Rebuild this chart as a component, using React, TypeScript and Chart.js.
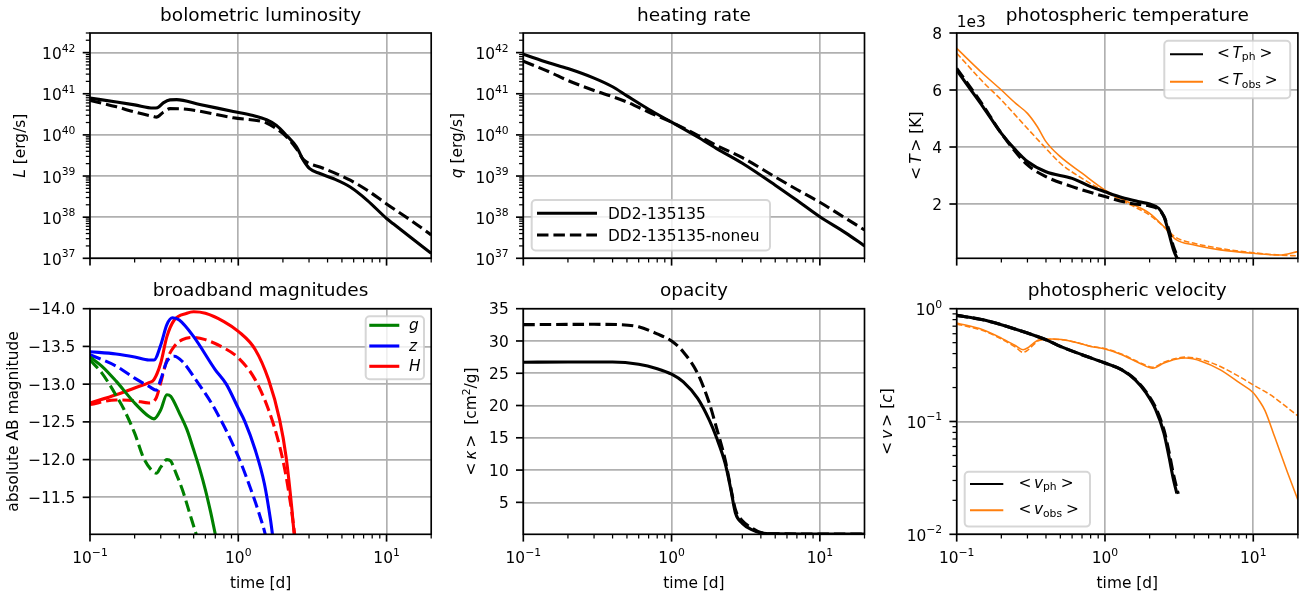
import { useEffect, useRef } from 'react';
import { Chart, registerables } from 'chart.js';

Chart.register(...registerables);

// ---------------------------------------------------------------- data
const timeMajorTicks = [0.1, 1, 10];
const timeTickExponents = ['−1', '0', '1'];
const timeMinorTicks = [0.2, 0.3, 0.4, 0.5, 0.6, 0.7, 0.8, 0.9, 2, 3, 4, 5, 6, 7, 8, 9, 20];

const lumMajorTicks = [1e37, 1e38, 1e39, 1e40, 1e41, 1e42];
const lumTickExponents = ['37', '38', '39', '40', '41', '42'];
const velMajorTicks = [0.01, 0.1, 1];
const velTickExponents = ['−2', '−1', '0'];
const tempMajorTicks = [2000, 4000, 6000, 8000];
const tempTickLabels = ['2', '4', '6', '8'];
const magMajorTicks = [-14, -13.5, -13, -12.5, -12, -11.5];
const magTickLabels = ['−14.0', '−13.5', '−13.0', '−12.5', '−12.0', '−11.5'];
const opacMajorTicks = [5, 10, 15, 20, 25, 30, 35];
const opacTickLabels = ['5', '10', '15', '20', '25', '30', '35'];

// bolometric luminosity [erg/s]
const lumSolidTime = [0.1, 0.151, 0.2, 0.267, 0.285, 0.312, 0.346, 0.384, 0.55, 0.925, 1.26, 1.55, 1.81, 2.11, 2.47, 2.75, 3.03, 3.55, 4.36, 5.69, 7.41, 10, 11.1, 14.5, 20];
const lumSolidValue = [7.85e40, 6.31e40, 5.37e40, 4.5e40, 4.6e40, 6.0e40, 7.1e40, 7.2e40, 5.5e40, 3.72e40, 2.95e40, 2.34e40, 1.7e40, 9.8e39, 5.1e39, 2.4e39, 1.51e39, 1.15e39, 8.7e38, 5.4e38, 2.57e38, 9.3e37, 6.9e37, 3.24e37, 1.32e37];
const lumDashedTime = [0.1, 0.151, 0.2, 0.267, 0.28, 0.312, 0.346, 0.449, 0.925, 1.55, 1.81, 2.11, 2.47, 2.75, 3.03, 3.55, 5.69, 7.41, 10, 14.5, 20];
const lumDashedValue = [6.9e40, 4.8e40, 3.6e40, 2.8e40, 2.7e40, 3.55e40, 4.35e40, 4.2e40, 2.6e40, 1.95e40, 1.41e40, 9.1e39, 4.6e39, 2.5e39, 2.0e39, 1.66e39, 7.9e38, 4.5e38, 2.1e38, 8.5e37, 3.7e37];

// heating rate [erg/s]
const heatSolidTime = [0.1, 0.15, 0.2, 0.3, 0.4, 0.5, 0.7, 1, 1.5, 2, 3, 5, 7, 10, 15, 20];
const heatSolidValue = [9.1e41, 5.6e41, 4.1e41, 2.4e41, 1.48e41, 8.9e40, 4.2e40, 2.04e40, 8.9e39, 4.7e39, 2.04e39, 6.0e38, 2.57e38, 1.02e38, 4.1e37, 2.0e37];
const heatDashedTime = [0.1, 0.15, 0.2, 0.3, 0.4, 0.5, 0.7, 1, 1.5, 2, 3, 5, 7, 10, 15, 20];
const heatDashedValue = [6.2e41, 3.4e41, 2.1e41, 1.2e41, 8.5e40, 6.3e40, 3.6e40, 2.04e40, 9.8e39, 5.6e39, 2.8e39, 9.5e38, 4.7e38, 2.3e38, 9.3e37, 4.9e37];

// photospheric temperature [K]
const tphSolidTime = [0.1, 0.12, 0.15, 0.2, 0.25, 0.3, 0.4, 0.6, 0.8, 1.0, 1.3, 1.7, 2.0, 2.3, 2.5, 2.7, 2.9, 3.1];
const tphSolidValue = [6700, 6120, 5420, 4480, 3890, 3490, 3130, 2900, 2610, 2430, 2230, 2080, 2000, 1850, 1560, 970, 390, 40];
const tphDashedTime = [0.1, 0.15, 0.2, 0.3, 0.4, 0.6, 1.0, 1.5, 2.0, 2.3, 2.5, 2.7, 2.9, 3.15];
const tphDashedValue = [6760, 5470, 4480, 3370, 2960, 2610, 2260, 2020, 1930, 1810, 1560, 1090, 500, 40];
const tobsSolidTime = [0.1, 0.15, 0.2, 0.25, 0.3, 0.35, 0.4, 0.5, 0.7, 1, 1.5, 2, 2.5, 3, 4, 6, 10, 15, 20];
const tobsSolidValue = [7460, 6580, 6000, 5530, 5180, 4710, 4190, 3660, 3080, 2490, 2020, 1670, 1200, 760, 560, 390, 270, 210, 330];
const tobsDashedTime = [0.1, 0.15, 0.2, 0.3, 0.4, 0.5, 0.7, 1, 1.5, 2, 2.5, 3, 4, 6, 10, 15, 20];
const tobsDashedValue = [7290, 6290, 5650, 4650, 3950, 3430, 2900, 2430, 1960, 1610, 1200, 830, 620, 440, 290, 210, 180];

// broadband magnitudes (absolute AB)
const gSolidTime = [0.1, 0.12, 0.15, 0.2, 0.25, 0.27, 0.3, 0.33, 0.35, 0.4, 0.45, 0.5, 0.55, 0.6, 0.65, 0.7, 0.72];
const gSolidValue = [-13.36, -13.24, -13.04, -12.75, -12.57, -12.54, -12.66, -12.86, -12.84, -12.62, -12.4, -12.13, -11.87, -11.6, -11.31, -11.01, -10.9];
const gDashedTime = [0.1, 0.12, 0.135, 0.15, 0.17, 0.2, 0.23, 0.26, 0.28, 0.3, 0.33, 0.35, 0.38, 0.42, 0.47, 0.52, 0.54];
const gDashedValue = [-13.32, -13.15, -13.0, -12.85, -12.66, -12.35, -12.02, -11.86, -11.82, -11.9, -12.0, -11.98, -11.82, -11.6, -11.29, -11.01, -10.9];
const zSolidTime = [0.1, 0.15, 0.2, 0.25, 0.27, 0.3, 0.33, 0.36, 0.4, 0.5, 0.7, 0.83, 1.0, 1.11, 1.3, 1.5, 1.65, 1.7, 1.74];
const zSolidValue = [-13.43, -13.4, -13.36, -13.32, -13.32, -13.52, -13.79, -13.88, -13.85, -13.63, -13.19, -13.0, -12.68, -12.5, -12.13, -11.68, -11.2, -11.01, -10.85];
const zDashedTime = [0.1, 0.15, 0.2, 0.25, 0.28, 0.3, 0.33, 0.37, 0.42, 0.5, 0.7, 1.0, 1.27, 1.4, 1.52, 1.56];
const zDashedValue = [-13.39, -13.24, -13.08, -12.97, -12.92, -13.06, -13.3, -13.37, -13.3, -13.1, -12.66, -12.04, -11.5, -11.25, -11.01, -10.9];
const hSolidTime = [0.1, 0.15, 0.2, 0.25, 0.27, 0.3, 0.33, 0.37, 0.45, 0.5, 0.6, 0.8, 1.0, 1.3, 1.6, 1.9, 2.1, 2.3, 2.38, 2.42];
const hSolidValue = [-12.75, -12.86, -12.95, -13.02, -13.06, -13.28, -13.63, -13.85, -13.94, -13.96, -13.94, -13.83, -13.7, -13.46, -13.06, -12.53, -12.04, -11.34, -11.01, -10.85];
const hDashedTime = [0.1, 0.15, 0.2, 0.25, 0.28, 0.3, 0.33, 0.37, 0.42, 0.5, 0.6, 0.8, 1.0, 1.3, 1.6, 1.9, 2.1, 2.3, 2.4, 2.44];
const hDashedValue = [-12.73, -12.79, -12.78, -12.75, -12.82, -13.02, -13.32, -13.5, -13.59, -13.62, -13.59, -13.48, -13.35, -13.06, -12.66, -12.18, -11.78, -11.29, -11.01, -10.9];

// opacity [cm^2/g]
const kapSolidTime = [0.1, 0.2, 0.4, 0.6, 0.8, 1.0, 1.2, 1.5, 1.8, 2.0, 2.3, 2.5, 2.7, 3.0, 3.5, 4.0, 5, 10, 20];
const kapSolidValue = [26.7, 26.75, 26.75, 26.4, 25.7, 24.85, 23.66, 21.1, 17.7, 15.15, 11.0, 7.2, 3.3, 1.75, 0.72, 0.25, 0.12, 0.1, 0.1];
const kapDashedTime = [0.1, 0.3, 0.45, 0.6, 0.8, 1.0, 1.2, 1.5, 1.8, 2.0, 2.3, 2.5, 2.7, 3.0, 3.5, 4.0, 5, 10, 20];
const kapDashedValue = [32.53, 32.58, 32.53, 32.2, 31.1, 30.0, 28.3, 24.95, 20.3, 16.7, 11.55, 7.4, 3.8, 2.16, 0.98, 0.31, 0.12, 0.1, 0.1];

// photospheric velocity [c]
const vphSolidTime = [0.1, 0.15, 0.2, 0.3, 0.4, 0.5, 0.7, 1.0, 1.3, 1.6, 1.9, 2.2, 2.5, 2.7, 2.9, 3.05];
const vphSolidValue = [0.873, 0.798, 0.721, 0.608, 0.531, 0.463, 0.391, 0.33, 0.287, 0.234, 0.178, 0.127, 0.0787, 0.0489, 0.0303, 0.0231];
const vphDashedTime = [0.1, 0.15, 0.2, 0.3, 0.4, 0.5, 0.7, 1.0, 1.3, 1.6, 1.9, 2.2, 2.5, 2.7, 2.9, 3.12];
const vphDashedValue = [0.873, 0.798, 0.721, 0.608, 0.531, 0.463, 0.391, 0.33, 0.287, 0.236, 0.182, 0.132, 0.084, 0.054, 0.0337, 0.0228];
const vobsSolidTime = [0.1, 0.15, 0.2, 0.25, 0.28, 0.3, 0.33, 0.36, 0.45, 0.6, 0.8, 1.0, 1.3, 1.7, 2.1, 2.5, 3.0, 3.5, 4.5, 6, 8, 10, 11, 12, 14, 17, 20];
const vobsSolidValue = [0.746, 0.651, 0.549, 0.469, 0.433, 0.448, 0.496, 0.531, 0.538, 0.513, 0.463, 0.439, 0.391, 0.33, 0.297, 0.33, 0.357, 0.365, 0.341, 0.287, 0.222, 0.18, 0.152, 0.125, 0.072, 0.0355, 0.0202];
const vobsDashedTime = [0.1, 0.15, 0.2, 0.25, 0.28, 0.3, 0.33, 0.36, 0.45, 0.6, 0.8, 1.0, 1.3, 1.7, 2.1, 2.5, 3.0, 3.5, 4.5, 6, 8, 10, 13, 16, 20];
const vobsDashedValue = [0.731, 0.64, 0.54, 0.455, 0.41, 0.427, 0.48, 0.523, 0.535, 0.513, 0.465, 0.442, 0.395, 0.335, 0.303, 0.335, 0.362, 0.372, 0.353, 0.307, 0.251, 0.211, 0.173, 0.141, 0.112];

// ---------------------------------------------------------------- style / layout
const W = 1310;
const H = 596;
const FONT_FAMILY = '"DejaVu Sans", "Liberation Sans", sans-serif';
const FS = 15.4;
const FS_TITLE = 18.5;
const BLACK = '#000000';
const ORANGE = '#ff7f0e';
const GREEN = '#008000';
const BLUE = '#0000ff';
const RED = '#ff0000';
const GRID = '#b0b0b0';
const THICK = 3.1;
const THIN = 1.56;
const MAJOR_LEN = 7.3;
const MINOR_LEN = 4.2;
const MAJOR_W = 1.67;
const MINOR_W = 1.25;
const SPINE_W = 1.67;
const LABEL_GAP = 14.6;

const COL_L = [90, 523.3, 956.7];
const PLOT_W = 341.2;
const ROW_T = [33, 308.7];
const ROW_B = [258.3, 534.3];

type Part = { s: string; it?: boolean; sc?: number; dy?: number; gap?: number };
type Series = { t: number[]; v: number[]; color: string; lw: number; dashed: boolean };
type LegendRow = { y: number; color: string; lw: number; dashed: boolean; parts: Part[] };
type LegendSpec = { box: [number, number, number, number]; hx: [number, number]; tx: number; dy: number; rows: LegendRow[] };
type PanelSpec = {
  col: number;
  row: number;
  title: string;
  yType: 'logarithmic' | 'linear';
  yMin: number;
  yMax: number;
  reverse?: boolean;
  yMajor: number[];
  yMinor: number[];
  yLabels: Part[][];
  yLabelDy: number;
  ylabel: Part[];
  ylabelX: number;
  xTickLabels: boolean;
  series: Series[];
  legend?: LegendSpec;
  offsetText?: string;
};

const pow10 = (e: string): Part[] => [{ s: '10' }, { s: e, sc: 0.7, dy: -0.5 }];
const plain = (s: string): Part[] => [{ s }];
const decadeMinors = (e0: number, e1: number, extra: number[]) => {
  const out: number[] = [];
  for (let e = e0; e < e1; e++) for (let k = 2; k <= 9; k++) out.push(k * Math.pow(10, e));
  return out.concat(extra);
};
const dash = (lw: number) => [3.7 * lw, 1.6 * lw];

const PANELS: PanelSpec[] = [
  {
    col: 0, row: 0, title: 'bolometric luminosity', yType: 'logarithmic', yMin: 1e37, yMax: 3e42,
    yMajor: lumMajorTicks, yMinor: decadeMinors(37, 42, [2e42, 3e42]), yLabels: lumTickExponents.map(pow10), yLabelDy: 6.6,
    ylabel: [{ s: 'L', it: true }, { s: ' [erg/s]' }], ylabelX: 25, xTickLabels: false,
    series: [
      { t: lumSolidTime, v: lumSolidValue, color: BLACK, lw: THICK, dashed: false },
      { t: lumDashedTime, v: lumDashedValue, color: BLACK, lw: THICK, dashed: true },
    ],
  },
  {
    col: 1, row: 0, title: 'heating rate', yType: 'logarithmic', yMin: 1e37, yMax: 3e42,
    yMajor: lumMajorTicks, yMinor: decadeMinors(37, 42, [2e42, 3e42]), yLabels: lumTickExponents.map(pow10), yLabelDy: 6.6,
    ylabel: [{ s: 'q', it: true }, { s: ' [erg/s]' }], ylabelX: 461.5, xTickLabels: false,
    series: [
      { t: heatSolidTime, v: heatSolidValue, color: BLACK, lw: THICK, dashed: false },
      { t: heatDashedTime, v: heatDashedValue, color: BLACK, lw: THICK, dashed: true },
    ],
    legend: {
      box: [531.7, 200, 770, 250.5], hx: [537, 597], tx: 608, dy: 5.6,
      rows: [
        { y: 213.3, color: BLACK, lw: THICK, dashed: false, parts: plain('DD2-135135') },
        { y: 235, color: BLACK, lw: THICK, dashed: true, parts: plain('DD2-135135-noneu') },
      ],
    },
  },
  {
    col: 2, row: 0, title: 'photospheric temperature', yType: 'linear', yMin: 95, yMax: 8000,
    yMajor: tempMajorTicks, yMinor: [], yLabels: tempTickLabels.map(plain), yLabelDy: 5.6,
    ylabel: [{ s: '<' }, { s: 'T', it: true, gap: 3 }, { s: '>', gap: 3 }, { s: ' [K]' }], ylabelX: 921, xTickLabels: false,
    series: [
      { t: tphSolidTime, v: tphSolidValue, color: BLACK, lw: THICK, dashed: false },
      { t: tphDashedTime, v: tphDashedValue, color: BLACK, lw: THICK, dashed: true },
      { t: tobsSolidTime, v: tobsSolidValue, color: ORANGE, lw: THIN, dashed: false },
      { t: tobsDashedTime, v: tobsDashedValue, color: ORANGE, lw: THIN, dashed: true },
    ],
    legend: {
      box: [1164.3, 40.7, 1290.2, 98.3], hx: [1170, 1203], tx: 1217, dy: 3.5,
      rows: [
        { y: 54.3, color: BLACK, lw: 2, dashed: false, parts: [{ s: '<' }, { s: 'T', it: true, gap: 2.5 }, { s: 'ph', sc: 0.7, dy: 0.15 }, { s: '>', gap: 4 }] },
        { y: 81.7, color: ORANGE, lw: 2, dashed: false, parts: [{ s: '<' }, { s: 'T', it: true, gap: 2.5 }, { s: 'obs', sc: 0.7, dy: 0.15 }, { s: '>', gap: 4 }] },
      ],
    },
    offsetText: '1e3',
  },
  {
    col: 0, row: 1, title: 'broadband magnitudes', yType: 'linear', yMin: -14, yMax: -11.01, reverse: true,
    yMajor: magMajorTicks, yMinor: [], yLabels: magTickLabels.map(plain), yLabelDy: 5.6,
    ylabel: plain('absolute AB magnitude'), ylabelX: 17.7, xTickLabels: true,
    series: [
      { t: gSolidTime, v: gSolidValue, color: GREEN, lw: THICK, dashed: false },
      { t: gDashedTime, v: gDashedValue, color: GREEN, lw: THICK, dashed: true },
      { t: zSolidTime, v: zSolidValue, color: BLUE, lw: THICK, dashed: false },
      { t: zDashedTime, v: zDashedValue, color: BLUE, lw: THICK, dashed: true },
      { t: hSolidTime, v: hSolidValue, color: RED, lw: THICK, dashed: false },
      { t: hDashedTime, v: hDashedValue, color: RED, lw: THICK, dashed: true },
    ],
    legend: {
      box: [365.7, 316.3, 424, 379.3], hx: [369.3, 399.3], tx: 409, dy: 5,
      rows: [
        { y: 325.3, color: GREEN, lw: THICK, dashed: false, parts: [{ s: 'g', it: true }] },
        { y: 346, color: BLUE, lw: THICK, dashed: false, parts: [{ s: 'z', it: true }] },
        { y: 366.3, color: RED, lw: THICK, dashed: false, parts: [{ s: 'H', it: true }] },
      ],
    },
  },
  {
    col: 1, row: 1, title: 'opacity', yType: 'linear', yMin: 0.05, yMax: 35,
    yMajor: opacMajorTicks, yMinor: [], yLabels: opacTickLabels.map(plain), yLabelDy: 5.6,
    ylabel: [{ s: '<' }, { s: 'κ', it: true, gap: 3 }, { s: '>', gap: 3 }, { s: '  [cm' }, { s: '2', sc: 0.7, dy: -0.4 }, { s: '/g]' }],
    ylabelX: 476, xTickLabels: true,
    series: [
      { t: kapSolidTime, v: kapSolidValue, color: BLACK, lw: THICK, dashed: false },
      { t: kapDashedTime, v: kapDashedValue, color: BLACK, lw: THICK, dashed: true },
    ],
  },
  {
    col: 2, row: 1, title: 'photospheric velocity', yType: 'logarithmic', yMin: 0.01, yMax: 1,
    yMajor: velMajorTicks, yMinor: decadeMinors(-2, 0, []), yLabels: velTickExponents.map(pow10), yLabelDy: 6.6,
    ylabel: [{ s: '<' }, { s: 'v', it: true, gap: 3 }, { s: '>', gap: 3 }, { s: ' [' }, { s: 'c', it: true }, { s: ']' }],
    ylabelX: 891.7, xTickLabels: true,
    series: [
      { t: vphSolidTime, v: vphSolidValue, color: BLACK, lw: THICK, dashed: false },
      { t: vphDashedTime, v: vphDashedValue, color: BLACK, lw: THICK, dashed: true },
      { t: vobsSolidTime, v: vobsSolidValue, color: ORANGE, lw: THIN, dashed: false },
      { t: vobsDashedTime, v: vobsDashedValue, color: ORANGE, lw: THIN, dashed: true },
    ],
    legend: {
      box: [964.7, 471.7, 1090, 526.6], hx: [970, 1003.3], tx: 1018.5, dy: 4,
      rows: [
        { y: 484, color: BLACK, lw: 2, dashed: false, parts: [{ s: '<' }, { s: 'v', it: true, gap: 2.5 }, { s: 'ph', sc: 0.7, dy: 0.15 }, { s: '>', gap: 4 }] },
        { y: 510.3, color: ORANGE, lw: 2, dashed: false, parts: [{ s: '<' }, { s: 'v', it: true, gap: 2.5 }, { s: 'obs', sc: 0.7, dy: 0.15 }, { s: '>', gap: 4 }] },
      ],
    },
  },
];

// ---------------------------------------------------------------- drawing helpers
function font(size: number, italic?: boolean) {
  return `${italic ? 'italic ' : ''}${size}px ${FONT_FAMILY}`;
}

function drawRich(ctx: CanvasRenderingContext2D, parts: Part[], x: number, y: number, size: number, align: 'left' | 'center' | 'right') {
  const widths = parts.map((p) => {
    ctx.font = font(size * (p.sc ?? 1), p.it);
    return ctx.measureText(p.s).width;
  });
  const total = parts.reduce((acc, p, i) => acc + (p.gap ?? 0) + widths[i], 0);
  let cx = align === 'left' ? x : align === 'center' ? x - total / 2 : x - total;
  ctx.textAlign = 'left';
  ctx.textBaseline = 'alphabetic';
  parts.forEach((p, i) => {
    cx += p.gap ?? 0;
    ctx.font = font(size * (p.sc ?? 1), p.it);
    ctx.fillText(p.s, cx, y + (p.dy ?? 0) * size);
    cx += widths[i];
  });
}

function line(ctx: CanvasRenderingContext2D, x1: number, y1: number, x2: number, y2: number, w: number) {
  ctx.lineWidth = w;
  ctx.beginPath();
  ctx.moveTo(x1, y1);
  ctx.lineTo(x2, y2);
  ctx.stroke();
}

function decorPlugin(p: PanelSpec) {
  return {
    id: 'decor',
    afterDraw(chart: any) {
      const ctx: CanvasRenderingContext2D = chart.ctx;
      const { left: l, right: r, top: t, bottom: b } = chart.chartArea;
      const xs = chart.scales.x;
      const ys = chart.scales.y;
      ctx.save();
      ctx.strokeStyle = '#000';
      ctx.fillStyle = '#000';
      ctx.setLineDash([]);

      timeMajorTicks.forEach((v) => { const px = xs.getPixelForValue(v); line(ctx, px, b, px, b + MAJOR_LEN, MAJOR_W); });
      timeMinorTicks.forEach((v) => { const px = xs.getPixelForValue(v); line(ctx, px, b, px, b + MINOR_LEN, MINOR_W); });
      p.yMajor.forEach((v) => { const py = ys.getPixelForValue(v); line(ctx, l - MAJOR_LEN, py, l, py, MAJOR_W); });
      p.yMinor.forEach((v) => { const py = ys.getPixelForValue(v); line(ctx, l - MINOR_LEN, py, l, py, MINOR_W); });

      ctx.lineWidth = SPINE_W;
      ctx.strokeRect(l, t, r - l, b - t);

      p.yMajor.forEach((v, i) => drawRich(ctx, p.yLabels[i], l - LABEL_GAP, ys.getPixelForValue(v) + p.yLabelDy, FS, 'right'));
      if (p.xTickLabels) {
        timeMajorTicks.forEach((v, i) => drawRich(ctx, pow10(timeTickExponents[i]), xs.getPixelForValue(v), b + 29, FS, 'center'));
        drawRich(ctx, plain('time [d]'), (l + r) / 2, b + 53.4, FS, 'center');
      }

      drawRich(ctx, plain(p.title), (l + r) / 2, t - 12.4, FS_TITLE, 'center');

      ctx.save();
      ctx.translate(p.ylabelX, (t + b) / 2);
      ctx.rotate(-Math.PI / 2);
      drawRich(ctx, p.ylabel, 0, 0, FS, 'center');
      ctx.restore();

      if (p.offsetText) drawRich(ctx, plain(p.offsetText), l, t - 6.3, FS, 'left');

      const lg = p.legend;
      if (lg) {
        const [x0, y0, x1, y1] = lg.box;
        ctx.beginPath();
        ctx.roundRect(x0, y0, x1 - x0, y1 - y0, 4);
        ctx.fillStyle = 'rgba(255,255,255,0.8)';
        ctx.fill();
        ctx.lineWidth = 2;
        ctx.strokeStyle = 'rgba(204,204,204,0.8)';
        ctx.stroke();
        lg.rows.forEach((row) => {
          ctx.strokeStyle = row.color;
          ctx.lineCap = 'butt';
          ctx.setLineDash(row.dashed ? dash(row.lw) : []);
          line(ctx, lg.hx[0], row.y, lg.hx[1], row.y, row.lw);
          ctx.setLineDash([]);
          ctx.fillStyle = '#000';
          drawRich(ctx, row.parts, lg.tx, row.y + lg.dy, FS, 'left');
        });
      }
      ctx.restore();
    },
  };
}

function buildConfig(p: PanelSpec): any {
  const l = COL_L[p.col];
  const r = l + PLOT_W;
  const t = ROW_T[p.row];
  const b = ROW_B[p.row];
  return {
    type: 'line',
    data: {
      datasets: p.series.map((s) => ({
        data: s.t.map((x, i) => ({ x, y: s.v[i] })),
        borderColor: s.color,
        borderWidth: s.lw,
        borderDash: s.dashed ? dash(s.lw) : [],
        borderCapStyle: 'butt',
        borderJoinStyle: 'round',
        pointRadius: 0,
        fill: false,
        cubicInterpolationMode: 'monotone',
        clip: 0,
      })),
    },
    options: {
      animation: false,
      responsive: false,
      events: [],
      layout: { padding: { left: l, top: t, right: W - r, bottom: H - b } },
      plugins: { legend: { display: false }, tooltip: { enabled: false }, title: { display: false } },
      scales: {
        x: {
          type: 'logarithmic',
          min: 0.1,
          max: 20,
          bounds: 'data',
          ticks: { display: false },
          grid: { color: GRID, lineWidth: 1.67, drawTicks: false },
          border: { display: false },
          afterBuildTicks: (ax: any) => { ax.ticks = timeMajorTicks.map((v) => ({ value: v })); },
          afterFit: (ax: any) => { ax.height = 0; },
        },
        y: {
          type: p.yType,
          min: p.yMin,
          max: p.yMax,
          reverse: !!p.reverse,
          bounds: 'data',
          ticks: { display: false },
          grid: { color: GRID, lineWidth: 1.67, drawTicks: false },
          border: { display: false },
          afterBuildTicks: (ax: any) => { ax.ticks = p.yMajor.map((v) => ({ value: v })); },
          afterFit: (ax: any) => { ax.width = 0; },
        },
      },
    },
    plugins: [decorPlugin(p)],
  };
}

function Panel({ spec }: { spec: PanelSpec }) {
  const ref = useRef<HTMLCanvasElement>(null);
  useEffect(() => {
    if (!ref.current) return;
    const chart = new Chart(ref.current, buildConfig(spec));
    return () => chart.destroy();
  }, [spec]);
  return <canvas ref={ref} width={W} height={H} style={{ position: 'absolute', left: 0, top: 0, width: W, height: H }} />;
}

export default function App() {
  return (
    <div style={{ position: 'absolute', left: 0, top: 0, width: W, height: H, background: '#ffffff', overflow: 'hidden' }}>
      {PANELS.map((p, i) => (
        <Panel key={i} spec={p} />
      ))}
    </div>
  );
}
